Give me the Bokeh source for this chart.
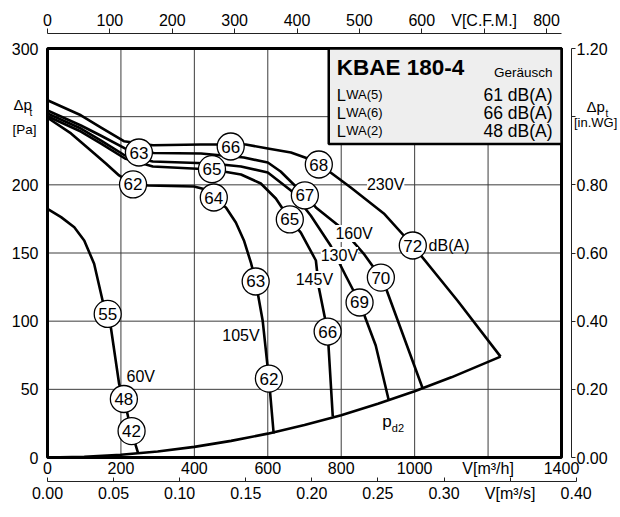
from bokeh.plotting import figure
from bokeh.models import (Range1d, LinearAxis, FixedTicker, ColumnDataSource, LabelSet,
                          Label, BoxAnnotation, Grid, PrintfTickFormatter)
from bokeh.core.properties import value
from bokeh.embed import file_html
from bokeh.resources import INLINE

FONT = "Liberation Sans"

# ---------------- axes / scales ----------------
X_MAX = 1400          # m3/h
Y_MAX = 300           # Pa
INWG_MAX = 1.20       # in.WG
CFM_PER_M3H = 0.5886
M3H_PER_M3S = 3600
M3S_MAX = 0.40

x_ticks = [0, 200, 400, 600, 800, 1000, 1200, 1400]
x_overrides = {1200: "V[m³/h]"}
y_ticks = [0, 50, 100, 150, 200, 250, 300]
y_overrides = {250: ""}
cfm_ticks = [0, 100, 200, 300, 400, 500, 600, 700, 800]
cfm_overrides = {700: "V[C.F.M.]"}
m3s_ticks = [0.0, 0.05, 0.10, 0.15, 0.20, 0.25, 0.30, 0.35, 0.40]
m3s_overrides = {0.35: "V[m³/s]"}
inwg_ticks = [0.0, 0.2, 0.4, 0.6, 0.8, 1.0, 1.2]
inwg_overrides = {1.0: ""}

# ---------------- fan curves (m3/h, Pa) ----------------
v230_x = [0, 91, 146, 208, 287, 418, 540, 600, 663, 709, 739, 771, 826, 916, 995, 1117, 1234]
v230_y = [262, 251, 242, 232, 229, 229.6, 229.6, 226.7, 223.7, 219.3, 214.9, 209, 198, 179, 155.5, 115, 74]

v160_x = [0, 91, 146, 211, 290, 418, 535, 600, 635, 701, 731, 799, 861, 908, 921, 1022]
v160_y = [254.5, 243.5, 236, 226.7, 223.4, 223, 220, 216.4, 209.8, 192.2, 183.4, 168.7, 149.6, 132, 124.7, 50.6]

v130_x = [0, 91, 146, 211, 287, 448, 527, 600, 663, 717, 771, 812, 850, 894, 929]
v130_y = [252.3, 241.3, 232.5, 221.5, 217.1, 215.7, 213.4, 209.1, 195.8, 177.5, 155.5, 133.5, 113.7, 82.2, 42.5]

v145_x = [0, 91, 146, 211, 287, 448, 527, 581, 622, 660, 690, 731, 739, 763, 777]
v145_y = [250.3, 239.1, 230.3, 219.3, 213.4, 211.3, 207.6, 201, 190, 174.6, 165, 144.5, 124.7, 92.4, 30.1]

v105_x = [0, 64, 118, 159, 195, 233, 274, 399, 431, 453, 486, 513, 535, 554, 567, 586, 603, 616]
v105_y = [249.2, 237.7, 225.2, 215.7, 206.9, 200.3, 199.5, 198.8, 196.6, 190, 183.4, 172.4, 159.2, 143, 129.1, 100.5, 57.9, 17.6]

v60_x = [0, 37, 73, 100, 127, 150, 164, 173, 195, 209, 228, 247]
v60_y = [182.4, 176.3, 168.9, 159.2, 142.1, 115.2, 104.7, 94.6, 54.1, 42.3, 19.8, 3]

pd2_x = [0, 100, 200, 300, 400, 500, 600, 700, 800, 900, 1000, 1100, 1234]
pd2_y = [0, 0.5, 2, 4.4, 7.8, 12.2, 17.5, 23.8, 31, 39.4, 48.6, 58.8, 74]

# ---------------- noise level markers dB(A) ----------------
noise_x = [249, 233, 499, 448, 453, 739, 701, 660, 995, 908, 850, 567, 763, 603, 164, 208, 229]
noise_y = [223.7, 200.3, 228.1, 211.5, 190.7, 214.9, 192.2, 174.6, 155.5, 132, 113.7, 129.1, 92.4, 57.9, 105.3, 42.9, 19.4]
noise_t = ["63", "62", "66", "65", "64", "68", "67", "65", "72", "70", "69", "63", "66", "62", "55", "48", "42"]

# ---------------- voltage labels ----------------
volt_x = [921, 835, 795, 727, 527, 254]
volt_y = [200.2, 164.3, 148.2, 130.6, 89.3, 59.6]
volt_t = ["230V", "160V", "130V", "145V", "105V", "60V"]

# ---------------- header box ----------------
title_text = "KBAE 180-4"
header_note = "Geräusch"
lwa_names = ["WA(5)", "WA(6)", "WA(2)"]
lwa_values = ["61 dB(A)", "66 dB(A)", "48 dB(A)"]
BOX_LEFT = 766
BOX_BOTTOM = 230

# ---------------- layout (pixels) ----------------
W, H = 620, 517
FR_L, FR_R, FR_T, FR_B = 47, 561, 48, 457     # chart box on the canvas
PX_PER_X = (FR_R - FR_L) / X_MAX
PX_PER_Y = (FR_B - FR_T) / Y_MAX
TOP_AXIS_PX = 33       # y pixel of the C.F.M. axis line
RIGHT_AXIS_PX = 571    # x pixel of the in.WG axis line
M3S_AXIS_PX = 481      # y pixel of the m3/s axis line

x_lo, x_hi = -FR_L / PX_PER_X, (W - FR_L) / PX_PER_X
y_lo, y_hi = -(H - FR_B) / PX_PER_Y, Y_MAX + FR_T / PX_PER_Y
PA_PER_INWG = Y_MAX / INWG_MAX

GRID_COLOR = "#3c3c3c"
AXIS_COLOR = "#222222"
CURVE_W = 2.6

p = figure(width=W, height=H, x_range=Range1d(x_lo, x_hi), y_range=Range1d(y_lo, y_hi),
           x_axis_location=None, y_axis_location=None,
           output_backend="svg", toolbar_location=None,
           min_border_left=0, min_border_right=0, min_border_top=0, min_border_bottom=0)
p.extra_x_ranges = {"cfm": Range1d(x_lo * CFM_PER_M3H, x_hi * CFM_PER_M3H),
                    "m3s": Range1d(x_lo / M3H_PER_M3S, x_hi / M3H_PER_M3S)}
p.extra_y_ranges = {"inwg": Range1d(y_lo / PA_PER_INWG, y_hi / PA_PER_INWG)}
p.outline_line_color = None
p.background_fill_color = "white"
p.border_fill_color = "white"
p.center = [c for c in p.center if not isinstance(c, Grid)]

# grid lines inside the chart box
gx = x_ticks[1:-1]
gy = y_ticks[1:-1]
p.segment(x0=gx, y0=[0] * len(gx), x1=gx, y1=[Y_MAX] * len(gx),
          line_color=GRID_COLOR, line_width=1)
p.segment(x0=[0] * len(gy), y0=gy, x1=[X_MAX] * len(gy), y1=gy,
          line_color=GRID_COLOR, line_width=1)


def style_axis(ax, size="16px"):
    ax.major_label_text_font = FONT
    ax.major_label_text_font_size = size
    ax.major_label_text_color = "black"
    ax.minor_tick_line_color = None
    ax.minor_tick_out = 0
    ax.minor_tick_in = 0


left_ax = LinearAxis(ticker=FixedTicker(ticks=y_ticks), major_label_overrides=y_overrides,
                     axis_line_color=None, major_tick_line_color=None, major_tick_out=0,
                     major_tick_in=0, major_label_standoff=9, fixed_location=0,
                     bounds=(0, Y_MAX))
style_axis(left_ax)
p.add_layout(left_ax, "left")

bottom_ax = LinearAxis(ticker=FixedTicker(ticks=x_ticks), major_label_overrides=x_overrides,
                       axis_line_color=None, major_tick_line_color=None, major_tick_out=0,
                       major_tick_in=0, major_label_standoff=2, fixed_location=0,
                       bounds=(0, X_MAX))
style_axis(bottom_ax)
p.add_layout(bottom_ax, "below")

m3s_ax = LinearAxis(x_range_name="m3s", ticker=FixedTicker(ticks=m3s_ticks),
                    formatter=PrintfTickFormatter(format="%.2f"),
                    major_label_overrides=m3s_overrides, axis_line_color=AXIS_COLOR,
                    axis_line_width=1, major_tick_line_color=AXIS_COLOR, major_tick_in=4,
                    major_tick_out=0, major_label_standoff=3,
                    fixed_location=-(M3S_AXIS_PX - FR_B) / PX_PER_Y, bounds=(0, M3S_MAX))
style_axis(m3s_ax)
p.add_layout(m3s_ax, "below")

cfm_ax = LinearAxis(x_range_name="cfm", ticker=FixedTicker(ticks=cfm_ticks),
                    major_label_overrides=cfm_overrides, axis_line_color=AXIS_COLOR,
                    axis_line_width=1, major_tick_line_color=AXIS_COLOR, major_tick_out=5,
                    major_tick_in=0, major_label_standoff=0,
                    fixed_location=Y_MAX + (FR_T - TOP_AXIS_PX) / PX_PER_Y,
                    bounds=(0, X_MAX * CFM_PER_M3H))
style_axis(cfm_ax)
p.add_layout(cfm_ax, "above")

inwg_ax = LinearAxis(y_range_name="inwg", ticker=FixedTicker(ticks=inwg_ticks),
                     formatter=PrintfTickFormatter(format="%.2f"),
                     major_label_overrides=inwg_overrides, axis_line_color=AXIS_COLOR,
                     axis_line_width=1, major_tick_line_color=AXIS_COLOR, major_tick_out=4,
                     major_tick_in=0, major_label_standoff=1,
                     fixed_location=X_MAX + (RIGHT_AXIS_PX - FR_R) / PX_PER_X,
                     bounds=(0, INWG_MAX))
style_axis(inwg_ax)
p.add_layout(inwg_ax, "right")

# curves
for xs, ys in [(v230_x, v230_y), (v160_x, v160_y), (v130_x, v130_y), (v145_x, v145_y),
               (v105_x, v105_y), (v60_x, v60_y), (pd2_x, pd2_y)]:
    p.line(xs, ys, line_color="black", line_width=CURVE_W, line_join="round")

nsrc = ColumnDataSource(dict(x=noise_x, y=noise_y, t=noise_t))
p.scatter("x", "y", source=nsrc, marker="circle", size=27, fill_color="white",
          line_color="black", line_width=1.3)
p.text("x", "y", text="t", source=nsrc, text_font=value(FONT), text_font_size=value("17px"),
       text_align="center", text_baseline="middle", text_color="black")

# chart box
p.add_layout(BoxAnnotation(left=0, right=X_MAX, bottom=0, top=Y_MAX, fill_alpha=0,
                           fill_color=None, line_color="black", line_width=3, line_alpha=1.0))

vsrc = ColumnDataSource(dict(x=volt_x, y=volt_y, t=volt_t))
p.add_layout(LabelSet(x="x", y="y", text="t", source=vsrc, text_font=value(FONT),
                      text_font_size=value("16px"), text_align="center", text_baseline="middle",
                      background_fill_color="white", background_fill_alpha=1.0,
                      text_color="black"))


def lab(x, y, text, size, xo=0, yo=0, align="left", baseline="alphabetic", style="normal",
        **kw):
    p.add_layout(Label(x=x, y=y, x_offset=xo, y_offset=yo, text=text, text_font=FONT,
                       text_font_size=size, text_align=align, text_baseline=baseline,
                       text_font_style=style, text_color="black", **kw))


lab(1038, 155.3, "dB(A)", "16px", baseline="middle")
lab(912, 22.7, "p", "17px", yo=5)
lab(912, 22.7, "d2", "11px", xo=9.5, yo=-1)

# header box
p.add_layout(BoxAnnotation(left=BOX_LEFT, right=X_MAX, bottom=BOX_BOTTOM, top=Y_MAX,
                           fill_color="#eeeeee", fill_alpha=1.0, line_color="black",
                           line_width=2.5, line_alpha=1.0))
lab(BOX_LEFT, Y_MAX, title_text, "22.5px", xo=8, yo=-19, style="bold")
lab(X_MAX, Y_MAX, header_note, "13.5px", xo=-9, yo=-24, align="right")
for i, (nm, val) in enumerate(zip(lwa_names, lwa_values)):
    yo = -46 - 18 * i
    lab(BOX_LEFT, Y_MAX, "L", "16.5px", xo=8, yo=yo)
    lab(BOX_LEFT, Y_MAX, nm, "13px", xo=17.5, yo=yo)
    lab(X_MAX, Y_MAX, val, "17.5px", xo=-9, yo=yo, align="right")

# axis titles
lab(0, 250, "Δp", "15px", xo=-34, yo=12)
lab(0, 250, "t", "10px", xo=-18, yo=4)
lab(0, 250, "[Pa]", "13.5px", xo=-35, yo=-13)
lab(X_MAX, 250, "Δp", "15px", xo=25, yo=10)
lab(X_MAX, 250, "t", "10px", xo=44, yo=3)
lab(X_MAX, 250, "[in.WG]", "13px", xo=12.5, yo=-6)

open("out.html", "w").write(file_html(p, INLINE))
